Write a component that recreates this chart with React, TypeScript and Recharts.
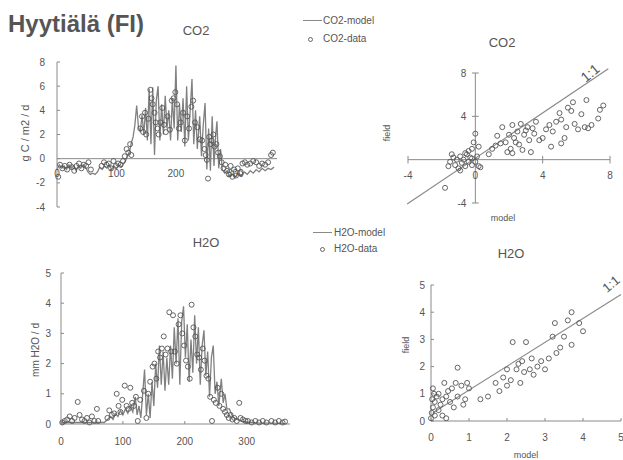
import React from 'react';
import {
  ComposedChart,
  ScatterChart,
  Line,
  Scatter,
  XAxis,
  YAxis,
  ReferenceLine,
  ReferenceDot,
} from 'recharts';

// CO2 time series: [day of year, g C / m2 / d]
const co2Model: [number, number][] = [
  [0, -0.9], [4, -0.5], [8, -0.8], [12, -0.6], [16, -0.9], [20, -0.5], [24, -0.8], [28, -0.6],
  [32, -1.0], [36, -0.6], [40, -0.8], [44, -0.5], [48, -0.7], [52, -1.1], [56, -1.3], [60, -1.2],
  [64, -1.3], [68, -1.1], [72, -0.7], [76, -0.9], [80, -0.6], [84, -0.8], [88, -0.5], [92, -0.9],
  [96, -0.6], [100, -0.8], [104, -0.5], [108, -0.7], [112, -0.4], [116, -0.1], [119, 0.3], [122, 0.6],
  [125, 1.3], [128, 1.8], [131, 2.8], [134, 4.4], [137, 2.6], [140, 2.2], [143, 3.6], [146, 2.0],
  [149, 4.2], [152, 1.5], [155, 5.8], [158, 1.2], [161, 5.9], [164, 0.3], [167, 4.8], [170, 6.0],
  [173, 1.5], [176, 4.5], [179, 2.0], [182, 5.2], [185, 2.5], [188, 4.0], [191, 1.5], [194, 5.0],
  [197, 2.5], [200, 7.7], [203, 1.5], [206, 4.5], [209, 2.2], [212, 5.0], [215, 1.0], [218, 6.0],
  [221, 1.5], [224, 4.0], [227, 6.6], [230, 1.2], [233, 4.0], [236, 0.8], [240, 3.5], [243, 0.2],
  [246, 2.8], [249, 4.6], [252, -0.9], [255, 2.5], [258, -1.0], [261, 3.5], [264, -0.6], [267, 2.0],
  [269, 3.1], [272, -0.8], [275, 0.8], [278, -0.9], [282, -1.2], [286, -1.0], [290, -1.4], [295, -1.3],
  [300, -1.5], [305, -1.2], [310, -1.4], [315, -1.1], [320, -1.3], [325, -1.0], [330, -1.2], [335, -0.9],
  [340, -1.1], [345, -0.8], [350, -1.0], [355, -0.8], [360, -0.9], [365, -0.7],
];

const co2Obs: [number, number][] = [
  [2, -1.5], [5, -0.5], [9, -0.8], [13, -0.6], [17, -0.9], [21, -0.5], [25, -0.7], [29, -1.0],
  [33, -0.6], [37, -0.4], [41, -0.8], [45, -0.5], [49, -0.6], [53, -0.3], [57, -0.9], [75, -0.6],
  [79, -0.3], [83, -0.5], [87, -0.4], [91, -0.8], [95, -0.2], [99, -0.6], [103, -0.4], [107, -0.5],
  [111, -0.2], [114, 0.2], [117, 0.8], [120, 0.5], [123, 1.2], [125, 0.3], [140, 2.5], [143, 3.5],
  [145, 2.2], [148, 3.8], [150, 2.0], [154, 3.3], [157, 5.7], [159, 5.0], [161, 4.5], [164, 3.8],
  [166, 3.0], [169, 2.5], [171, 2.0], [174, 3.0], [177, 4.2], [180, 2.8], [183, 2.2], [186, 3.5],
  [190, 2.4], [193, 4.8], [196, 5.0], [199, 5.5], [202, 4.5], [205, 2.5], [208, 3.0], [212, 3.8],
  [215, 1.5], [219, 3.5], [222, 2.5], [226, 4.3], [229, 4.8], [232, 3.0], [236, 2.6], [240, 1.6],
  [244, 1.5], [248, 0.8], [250, 0.3], [252, -0.1], [254, -1.65], [256, 1.8], [258, 1.2], [260, 1.5],
  [263, 2.0], [265, 1.0], [268, 1.2], [271, 0.5], [274, 0.2], [277, -0.3], [280, -0.8], [283, -0.5],
  [286, -1.0], [289, -1.3], [292, -0.6], [295, -1.5], [298, -0.9], [301, -1.4], [304, -0.8], [308, -1.2],
  [312, -0.4], [316, -0.3], [320, -0.5], [325, -0.4], [330, -0.2], [335, -0.3], [340, -0.6], [345, -0.4],
  [350, -0.5], [355, -0.3], [360, 0.3], [363, 0.5],
];

// H2O time series: [day of year, mm H2O / d]
const h2oModel: [number, number][] = [
  [0, 0.05], [10, 0.05], [20, 0.05], [30, 0.05], [40, 0.05], [50, 0.05], [60, 0.05], [70, 0.05],
  [75, 0.15], [80, 0.25], [84, 0.15], [88, 0.35], [92, 0.25], [96, 0.45], [100, 0.3], [104, 0.5],
  [108, 0.35], [112, 0.6], [116, 0.4], [120, 0.9], [123, 0.3], [126, 0.6], [129, 0.2], [132, 1.0],
  [135, 1.8], [138, 0.3], [141, 1.0], [144, 0.2], [147, 1.4], [150, 0.6], [153, 2.0], [156, 1.2],
  [159, 2.6], [162, 1.3], [165, 2.4], [168, 1.1], [171, 2.2], [174, 1.3], [177, 2.6], [180, 1.5],
  [183, 3.2], [186, 2.0], [189, 3.5], [192, 1.3], [195, 3.4], [198, 3.9], [201, 2.2], [204, 3.3],
  [207, 1.4], [210, 2.8], [213, 1.7], [216, 3.6], [219, 2.0], [222, 3.2], [225, 1.3], [228, 2.6],
  [231, 3.1], [234, 1.6], [237, 2.4], [240, 0.9], [243, 2.2], [246, 2.6], [249, 1.0], [252, 1.4],
  [255, 0.6], [259, 1.5], [262, 0.7], [265, 1.0], [268, 0.5], [272, 0.5], [276, 0.3], [280, 0.2],
  [285, 0.15], [290, 0.1], [300, 0.05], [310, 0.05], [320, 0.03], [330, 0.03], [340, 0.03], [350, 0.02],
  [360, 0.02],
];

const h2oObs: [number, number][] = [
  [2, 0.05], [6, 0.1], [10, 0.15], [14, 0.25], [18, 0.1], [22, 0.2], [27, 0.73], [30, 0.3],
  [34, 0.15], [38, 0.1], [42, 0.2], [46, 0.05], [50, 0.25], [54, 0.1], [58, 0.5], [60, 0.1],
  [75, 0.2], [78, 0.45], [82, 0.3], [86, 0.35], [90, 1.0], [93, 0.6], [96, 0.4], [99, 0.8],
  [103, 1.27], [106, 0.6], [109, 0.5], [112, 1.2], [115, 0.7], [118, 0.6], [121, 0.9], [124, 0.1],
  [128, 0.8], [134, 1.1], [138, 0.2], [141, 1.0], [144, 1.4], [148, 1.9], [151, 2.0], [154, 1.5],
  [157, 2.4], [160, 2.2], [163, 2.5], [166, 2.9], [169, 2.3], [172, 2.5], [175, 3.7], [178, 2.4],
  [181, 3.6], [184, 2.4], [187, 2.0], [190, 3.3], [193, 3.6], [196, 3.0], [199, 2.6], [202, 2.1],
  [205, 1.9], [208, 1.5], [211, 3.95], [214, 3.2], [217, 2.9], [220, 2.3], [223, 2.2], [226, 1.8],
  [229, 2.5], [232, 2.1], [235, 1.6], [238, 1.5], [241, 0.9], [244, 0.1], [247, 0.8], [250, 0.7],
  [253, 1.2], [256, 0.6], [259, 1.0], [262, 0.5], [265, 0.4], [268, 0.3], [271, 0.2], [274, 0.3],
  [277, 0.15], [280, 0.2], [284, 0.1], [288, 0.7], [290, 0.2], [294, 0.15], [298, 0.1], [302, 0.1],
  [308, 0.05], [314, 0.1], [320, 0.05], [326, 0.1], [332, 0.05], [340, 0.1], [346, 0.05], [352, 0.1],
  [358, 0.05], [362, 0.08],
];

// model vs field: [model, field]
const co2Pairs: [number, number][] = [
  [-1.5, -0.2], [-1.3, 0.2], [-1.2, -0.5], [-1.0, -0.8], [-0.9, 0.3], [-0.8, -0.3], [-0.7, 0.0],
  [-0.6, -0.6], [-0.5, 0.5], [-0.4, -0.2], [-0.3, 0.2], [-0.2, -0.5], [-1.6, -0.6], [-1.1, 0.0],
  [-0.9, -1.0], [-0.6, 0.6], [-0.4, 0.8], [-1.4, 0.5], [-0.2, 0.1], [0.0, -0.2], [0.1, 0.3],
  [0.2, -0.6], [0.3, -0.7], [-0.1, 1.6], [0.0, 2.4], [-0.2, 1.0], [0.2, 1.2], [-1.8, -2.6],
  [0.8, 0.5], [1.0, 1.0], [1.2, 1.3], [1.3, 2.2], [1.5, 1.5], [1.6, 3.0], [1.8, 1.6], [2.0, 2.3],
  [2.1, 1.0], [2.2, 3.2], [2.3, 2.0], [2.4, 1.6], [2.5, 2.6], [2.6, 1.4], [2.7, 3.3], [2.8, 0.9],
  [2.9, 2.3], [3.0, 2.7], [3.1, 3.0], [3.2, 1.8], [3.3, 0.7], [3.4, 2.9], [3.5, 2.4], [3.6, 3.5],
  [2.2, 0.6], [1.9, 0.7], [4.0, 2.0], [4.2, 2.8], [4.4, 3.2], [4.6, 2.6], [4.8, 3.5], [5.0, 4.3],
  [5.1, 3.7], [5.3, 2.0], [5.4, 3.0], [5.5, 4.8], [5.7, 4.5], [5.9, 3.3], [6.1, 2.8], [6.3, 4.2],
  [6.5, 3.0], [6.7, 2.9], [6.9, 3.2], [7.3, 3.8], [7.4, 4.6], [7.6, 5.0], [5.8, 5.3], [6.6, 5.5],
  [3.8, 1.8], [4.5, 1.2], [5.1, 1.5],
];

const h2oPairs: [number, number][] = [
  [0.0, 0.1], [0.02, 0.3], [0.05, 0.5], [0.03, 0.8], [0.08, 1.0], [0.05, 1.2], [0.1, 0.2],
  [0.1, 0.7], [0.15, 0.9], [0.2, 0.4], [0.2, 1.0], [0.25, 0.6], [0.3, 0.8], [0.3, 0.2],
  [0.35, 1.4], [0.4, 0.9], [0.4, 0.1], [0.45, 1.1], [0.5, 0.7], [0.55, 1.2], [0.6, 0.5],
  [0.65, 1.4], [0.7, 0.9], [0.7, 1.96], [0.8, 1.3], [0.85, 0.6], [0.9, 0.8], [0.95, 1.4],
  [1.0, 1.2], [1.3, 0.8], [1.5, 0.9], [1.7, 1.4], [1.8, 1.1], [1.9, 1.6], [2.0, 1.3], [2.0, 1.9],
  [2.1, 1.5], [2.15, 2.9], [2.25, 1.9], [2.3, 2.1], [2.35, 1.4], [2.4, 2.2], [2.45, 1.8],
  [2.5, 2.9], [2.6, 1.9], [2.65, 2.3], [2.7, 1.7], [2.8, 2.0], [2.9, 2.2], [3.0, 1.9], [3.1, 2.3],
  [3.2, 3.1], [3.26, 3.6], [3.3, 2.5], [3.4, 2.7], [3.5, 3.1], [3.6, 3.7], [3.7, 2.8], [3.7, 4.0],
  [3.9, 3.6], [4.0, 3.3],
];

const dayTicks = [0, 100, 200, 300];
const co2Ticks = [-4, -2, 0, 2, 4, 6, 8];
const h2oTicks = [0, 1, 2, 3, 4, 5];
const co2ScatterXTicks = [-4, 0, 4, 8];
const co2ScatterYTicks = [-4, 4, 8];

const toDays = (rows: [number, number][]) => rows.map(([day, v]) => ({ day, v }));
const toPairs = (rows: [number, number][]) => rows.map(([m, f]) => ({ m, f }));

const AXIS = '#8a8a8a';
const TEXT = '#555';

const OpenCircle = (props: any) => {
  const { cx, cy } = props;
  if (cx == null || cy == null) return null;
  return <circle cx={cx} cy={cy} r={2.5} fill="none" stroke="#555" strokeWidth={0.9} />;
};

const Txt = ({ x, y, size = 10, rotate = 0, bold = false, left = false, children }: any) => (
  <div
    style={{
      position: 'absolute',
      left: x,
      top: y,
      transform: `translate(${left ? '0' : '-50%'}, -50%) rotate(${rotate}deg)`,
      fontSize: size,
      fontWeight: bold ? 'bold' : 'normal',
      color: TEXT,
      whiteSpace: 'nowrap',
      lineHeight: 1,
    }}
  >
    {children}
  </div>
);

const LegendLine = ({ x, y }: any) => (
  <div style={{ position: 'absolute', left: x, top: y, width: 19, borderTop: `1.2px solid ${AXIS}` }} />
);
const LegendDot = ({ x, y }: any) => (
  <div
    style={{
      position: 'absolute', left: x - 2, top: y - 2, width: 3, height: 3,
      border: '0.8px solid #666', borderRadius: '50%',
    }}
  />
);

const tickStyle = { fill: TEXT, fontSize: 10 };

export default function App() {
  return (
    <div
      style={{
        position: 'absolute', left: 0, top: 0, width: 623, height: 460,
        background: '#fff', fontFamily: '"Liberation Sans", Arial, sans-serif', overflow: 'hidden',
      }}
    >
      <Txt x={8} y={24} size={24} bold left>Hyytiälä (FI)</Txt>

      {/* CO2 time series */}
      <Txt x={196} y={30} size={13}>CO2</Txt>
      <Txt x={25} y={133} size={11} rotate={-90}>g C / m2 / d</Txt>
      <div style={{ position: 'absolute', left: 0, top: 45 }}>
        <ComposedChart width={300} height={185} margin={{ top: 17, right: 23, bottom: 23, left: 27 }}>
          <XAxis type="number" dataKey="day" domain={[0, 370]} hide />
          <YAxis
            type="number" dataKey="v" domain={[-4, 8]} ticks={co2Ticks} interval={0} width={30}
            tickSize={-3} tickMargin={15} axisLine={{ stroke: AXIS }} tickLine={{ stroke: AXIS }} tick={tickStyle}
          />
          <ReferenceLine y={0} stroke={AXIS} />
          {dayTicks.map((d) => (
            <ReferenceDot
              key={d} x={d} y={0} r={0} fill="none" stroke="none"
              label={{ value: String(d), position: 'bottom', offset: 11, fill: TEXT, fontSize: 10 }}
            />
          ))}
          <Line data={toDays(co2Model)} dataKey="v" type="linear" stroke="#808080" strokeWidth={1.3} dot={false} isAnimationActive={false} />
          <Scatter data={toDays(co2Obs)} dataKey="v" shape={OpenCircle} isAnimationActive={false} />
        </ComposedChart>
      </div>

      <LegendLine x={303} y={20} />
      <Txt x={323} y={21} size={10} left>CO2-model</Txt>
      <LegendDot x={310} y={39} />
      <Txt x={323} y={39} size={10} left>CO2-data</Txt>

      {/* CO2 model vs field */}
      <Txt x={502} y={42} size={13}>CO2</Txt>
      <Txt x={387} y={133} size={9} rotate={-90}>field</Txt>
      <Txt x={503} y={218} size={9}>model</Txt>
      <Txt x={590} y={73} size={14} rotate={-40}>1:1</Txt>
      <div style={{ position: 'absolute', left: 300, top: 50 }}>
        <ScatterChart width={323} height={175} margin={{ top: 23, right: 13, bottom: 22, left: 108 }}>
          <XAxis type="number" dataKey="m" domain={[-4, 8]} hide />
          <YAxis type="number" dataKey="f" domain={[-4, 8]} hide />
          <ReferenceLine x={0} stroke={AXIS} />
          <ReferenceLine y={0} stroke={AXIS} />
          {co2ScatterXTicks.filter((t) => t !== 0).map((t) => (
            <ReferenceLine key={'xt' + t} segment={[{ x: t, y: -0.35 }, { x: t, y: 0.35 }]} stroke={AXIS} ifOverflow="visible" />
          ))}
          {co2ScatterYTicks.map((t) => (
            <ReferenceLine key={'yt' + t} segment={[{ x: -0.2, y: t }, { x: 0.2, y: t }]} stroke={AXIS} ifOverflow="visible" />
          ))}
          {co2ScatterXTicks.map((t) => (
            <ReferenceDot
              key={'xl' + t} x={t} y={0} r={0} fill="none" stroke="none"
              label={{ value: String(t), position: 'bottom', offset: 12, fill: TEXT, fontSize: 10 }}
            />
          ))}
          {co2ScatterYTicks.map((t) => (
            <ReferenceDot
              key={'yl' + t} x={0} y={t} r={0} fill="none" stroke="none"
              label={{ value: String(t), position: 'left', offset: 9, fill: TEXT, fontSize: 10 }}
            />
          ))}
          <ReferenceLine segment={[{ x: -4.05, y: -4.1 }, { x: 7.9, y: 8.4 }]} stroke={AXIS} strokeWidth={1.2} ifOverflow="visible" />
          <Scatter data={toPairs(co2Pairs)} shape={OpenCircle} isAnimationActive={false} />
        </ScatterChart>
      </div>

      {/* H2O time series */}
      <Txt x={206} y={242} size={13}>H2O</Txt>
      <Txt x={36} y={350} size={10} rotate={-90}>mm H2O / d</Txt>
      <div style={{ position: 'absolute', left: 0, top: 255 }}>
        <ComposedChart width={300} height={205} margin={{ top: 18, right: 10, bottom: 16, left: 31 }}>
          <XAxis
            type="number" dataKey="day" domain={[0, 370]} ticks={dayTicks} interval={0} height={20}
            tickSize={-3} tickMargin={17} axisLine={{ stroke: AXIS }} tickLine={{ stroke: AXIS }} tick={tickStyle}
          />
          <YAxis
            type="number" dataKey="v" domain={[0, 5]} ticks={h2oTicks} interval={0} width={30}
            tickSize={-3} tickMargin={13} axisLine={{ stroke: AXIS }} tickLine={{ stroke: AXIS }} tick={tickStyle}
          />
          <Line data={toDays(h2oModel)} dataKey="v" type="linear" stroke="#808080" strokeWidth={1.3} dot={false} isAnimationActive={false} />
          <Scatter data={toDays(h2oObs)} dataKey="v" shape={OpenCircle} isAnimationActive={false} />
        </ComposedChart>
      </div>

      <LegendLine x={313} y={232} />
      <Txt x={334} y={233} size={10} left>H2O-model</Txt>
      <LegendDot x={322} y={249} />
      <Txt x={334} y={249} size={10} left>H2O-data</Txt>

      {/* H2O model vs field */}
      <Txt x={511} y={253} size={13}>H2O</Txt>
      <Txt x={406} y={345} size={9} rotate={-90}>field</Txt>
      <Txt x={526} y={455} size={9}>model</Txt>
      <Txt x={611} y={284} size={13} rotate={-40}>1:1</Txt>
      <div style={{ position: 'absolute', left: 300, top: 260 }}>
        <ScatterChart width={323} height={200} margin={{ top: 25, right: 2, bottom: 17, left: 111 }}>
          <XAxis
            type="number" dataKey="m" domain={[0, 5]} ticks={h2oTicks} interval={0} height={22}
            tickSize={-3} tickMargin={16} axisLine={{ stroke: AXIS }} tickLine={{ stroke: AXIS }} tick={tickStyle}
          />
          <YAxis
            type="number" dataKey="f" domain={[0, 5]} ticks={h2oTicks} interval={0} width={20}
            tickSize={-3} tickMargin={9} axisLine={{ stroke: AXIS }} tickLine={{ stroke: AXIS }} tick={tickStyle}
          />
          <ReferenceLine segment={[{ x: 0.05, y: 0.3 }, { x: 5, y: 4.65 }]} stroke={AXIS} strokeWidth={1.2} ifOverflow="visible" />
          <Scatter data={toPairs(h2oPairs)} shape={OpenCircle} isAnimationActive={false} />
        </ScatterChart>
      </div>
    </div>
  );
}
